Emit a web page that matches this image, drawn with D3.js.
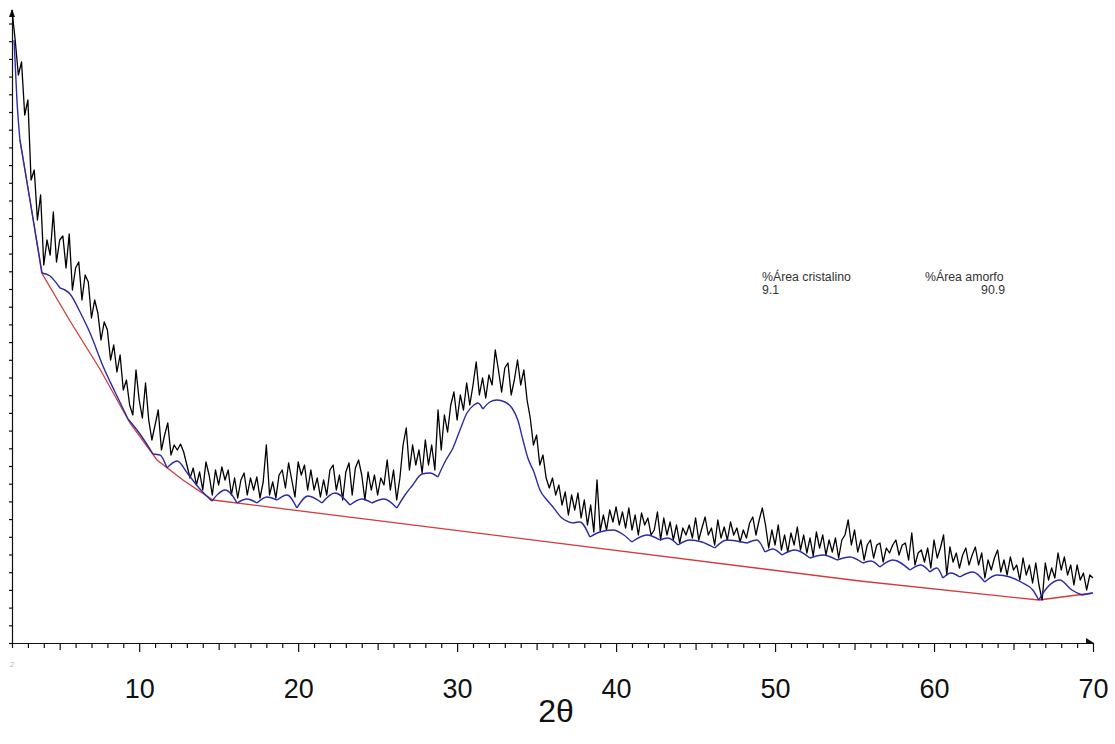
<!DOCTYPE html>
<html><head><meta charset="utf-8">
<script src="https://cdn.jsdelivr.net/npm/d3@7"></script>
<style>body{margin:0;background:#fff}svg{display:block}</style>
</head><body>
<svg id="chart" width="1115" height="744"></svg>
<script>
// XRD pattern, evenly sampled in 2θ
const angleStart = 2.0, angleStep = 0.2;
const rawCounts = [
633,603,568,581,528,543,463,473,423,448,378,403,
388,431,381,403,407,375,409,
353,375,381,343,368,361,
325,343,330,303,321,313,
283,298,271,288,253,263,238,
228,273,243,225,260,223,
203,218,233,193,208,220,
188,198,193,199,191,178,
165,175,158,171,153,181,168,148,173,158,176,163,173,
148,165,145,163,170,148,165,153,166,145,161,198,148,161,145,168,173,155,180,163,146,181,168,178,153,173,153,165,146,163,148,173,178,153,168,143,171,180,148,175,183,168,143,171,153,168,148,165,158,183,153,173,143,165,198,215,173,198,178,193,170,203,178,198,173,233,193,
228,211,238,251,223,248,233,260,238,258,281,248,265,245,268,258,293,273,251,275,280,248,263,283,258,273,243,225,198,208,178,188,165,155,
165,148,158,138,151,128,148,133,150,125,143,118,138,111,163,112,128,113,133,121,136,118,131,115,135,113,128,108,130,118,125,108,
113,131,103,125,108,121,103,118,100,115,108,118,105,125,103,115,126,108,115,98,123,105,116,103,121,108,115,101,113,105,120,126,108,123,135,118,95,113,98,118,93,108,91,110,98,116,93,108,90,105,87,111,95,108,88,103,91,105,85,103,108,123,98,113,91,103,83,
98,103,85,98,100,81,95,90,98,103,88,98,100,83,110,78,90,93,81,95,75,103,85,95,108,68,96,81,90,75,88,95,78,88,96,78,90,65,83,73,85,93,71,83,68,86,73,78,63,85,68,78,60,80,58,43,80,63,75,65,90,73,86,68,78,58,78,63,70,53,68,65
];

// fitted amorphous envelope (blue)
const blueAngle = [2.13,2.31,2.50,3.13,3.89,4.39,5.02,5.65,6.28,6.91,7.72,8.48,9.30,10.05,10.87,11.31,11.75,12.38,13.07,13.82,14.58,14.96,15.40,15.84,16.15,16.78,17.41,18.04,18.67,19.30,19.92,20.62,21.50,22.31,23.26,24.01,24.64,25.40,26.21,26.72,27.16,27.79,28.29,28.79,29.23,29.74,30.18,30.62,31.06,31.31,31.62,32.06,32.50,33.01,33.45,33.82,34.14,34.45,34.83,35.21,35.65,36.03,36.59,37.28,37.72,38.35,38.98,39.80,40.49,40.99,41.94,42.75,43.26,43.89,44.64,45.40,46.21,46.97,48.23,48.86,49.36,49.86,50.43,51.25,52.19,53.01,53.89,54.70,55.52,56.03,56.59,57.41,58.48,59.17,59.74,60.18,60.55,61.06,61.62,62.44,63.19,63.95,64.77,65.58,66.21,66.59,67.09,67.91,68.67,69.30,69.99];
const blueCounts = [603,543,503,443,370,367,355,349,331,310,277,251,224,209,189,188,175,182,169,154,142,149,153,148,140,144,140,146,143,148,135,147,140,150,138,144,140,144,135,148,157,169,170,166,181,195,213,230,238,240,234,241,243,241,235,223,203,185,171,153,143,136,125,120,121,106,111,113,108,101,108,103,105,98,103,101,95,103,100,103,91,94,88,93,85,88,83,86,80,82,76,83,73,78,71,75,65,70,66,71,61,68,66,60,53,43,55,63,53,48,50];
const cuspAngles = [2.50,3.89,5.02,6.28,9.30,10.87,11.75,14.58,16.15,17.41,18.67,19.92,21.50,23.26,24.64,26.21,28.79,31.62,37.28,38.35,40.99,42.75,43.89,46.21,48.23,49.36,50.43,52.19,53.89,55.52,56.59,58.48,59.74,60.55,61.62,63.19,66.59,69.30];

// baseline (red)
const baseAngle = [2.50,3.13,3.87,5.65,7.53,9.42,11.12,12.75,14.64,55.33,66.59,69.99];
const baseCounts = [503,443,370,322,274,220,183,163,143,62,43,50];

const xTickLabels = [10,20,30,40,50,60,70];
const areaLabels = ["%Área cristalino", "%Área amorfo"];
const areaValues = ["9.1", "90.9"];
const xTitle = "2θ";

const svg = d3.select("#chart");
const x = d3.scaleLinear().domain([2, 70]).range([12, 1093]);
const y = d3.scaleLinear().domain([0, 633]).range([643, 10]);
const tf = "Liberation Sans, Arial, sans-serif";

// axes
const minor = d3.range(2, 71);
const gx = svg.append("g").attr("transform", "translate(0,643)")
  .call(d3.axisBottom(x).tickValues(minor).tickSize(5).tickSizeOuter(0).tickFormat(""));
gx.selectAll(".tick line").attr("y2", d => d % 10 === 0 ? 9 : (d % 5 === 0 ? 7 : 5));
gx.selectAll("line,path").attr("stroke", "#111").attr("stroke-width", 1.2);

const gl = svg.append("g").attr("transform", "translate(0,643)")
  .call(d3.axisBottom(x).tickValues(xTickLabels).tickSize(0).tickFormat(d3.format("d")));
gl.select(".domain").remove();
gl.selectAll("text").attr("y", 55).attr("dy", 0)
  .attr("font-family", tf).attr("font-size", 27).attr("fill", "#111");

const gy = svg.append("g").attr("transform", "translate(12,0)")
  .call(d3.axisLeft(y).tickValues(d3.range(0, 630, 17.7)).tickSize(3).tickSizeOuter(0).tickFormat(""));
gy.selectAll("line,path").attr("stroke", "#111").attr("stroke-width", 1.2);

// arrows
svg.append("path").attr("d", `M${x(70)-7},${y(0)-5}L${x(70)+1},${y(0)}L${x(70)-7},${y(0)+1}Z`).attr("fill", "#111");
svg.append("path").attr("d", `M${x(2)-3},${y(633)+7}L${x(2)},${y(633)-1}L${x(2)+3},${y(633)+7}Z`).attr("fill", "#111");

// faint start label
svg.append("text").attr("x", x(2)).attr("y", 667).attr("text-anchor", "middle")
  .attr("font-family", tf).attr("font-size", 8).attr("fill", "#bbb").text("2");

// axis title
svg.append("text").attr("x", 556).attr("y", 722).attr("text-anchor", "middle")
  .attr("font-family", tf).attr("font-size", 32).attr("fill", "#111").text(xTitle);

// red baseline
const baseData = baseAngle.map((a, i) => [a, baseCounts[i]]);
svg.append("path").datum(baseData)
  .attr("d", d3.line().x(d => x(d[0])).y(d => y(d[1])))
  .attr("fill", "none").attr("stroke", "#d23c3c").attr("stroke-width", 1.3);

// raw pattern
const rawData = rawCounts.map((c, i) => [angleStart + i * angleStep, c]);
svg.append("path").datum(rawData)
  .attr("d", d3.line().x(d => x(d[0])).y(d => y(d[1])))
  .attr("fill", "none").attr("stroke", "#000").attr("stroke-width", 1.3).attr("stroke-linejoin", "round");

// blue envelope, split at cusps
const blueData = blueAngle.map((a, i) => [a, blueCounts[i]]);
const segs = [];
let cur = [];
blueData.forEach(p => {
  cur.push(p);
  if (cuspAngles.includes(p[0])) { segs.push(cur); cur = [p]; }
});
if (cur.length > 1) segs.push(cur);
const blueLine = d3.line().x(d => x(d[0])).y(d => y(d[1])).curve(d3.curveMonotoneX);
svg.append("g").selectAll("path").data(segs).join("path")
  .attr("d", blueLine).attr("fill", "none").attr("stroke", "#2b2ba6").attr("stroke-width", 1.4);

// area text
const fs = 12.3;
svg.append("text").attr("x", 762).attr("y", 281).attr("font-family", tf).attr("font-size", fs).attr("fill", "#333").text(areaLabels[0]);
svg.append("text").attr("x", 762).attr("y", 294).attr("font-family", tf).attr("font-size", fs).attr("fill", "#333").text(areaValues[0]);
svg.append("text").attr("x", 925).attr("y", 281).attr("font-family", tf).attr("font-size", fs).attr("fill", "#333").text(areaLabels[1]);
svg.append("text").attr("x", 1005).attr("y", 294).attr("text-anchor", "end").attr("font-family", tf).attr("font-size", fs).attr("fill", "#333").text(areaValues[1]);
</script>
</body></html>
